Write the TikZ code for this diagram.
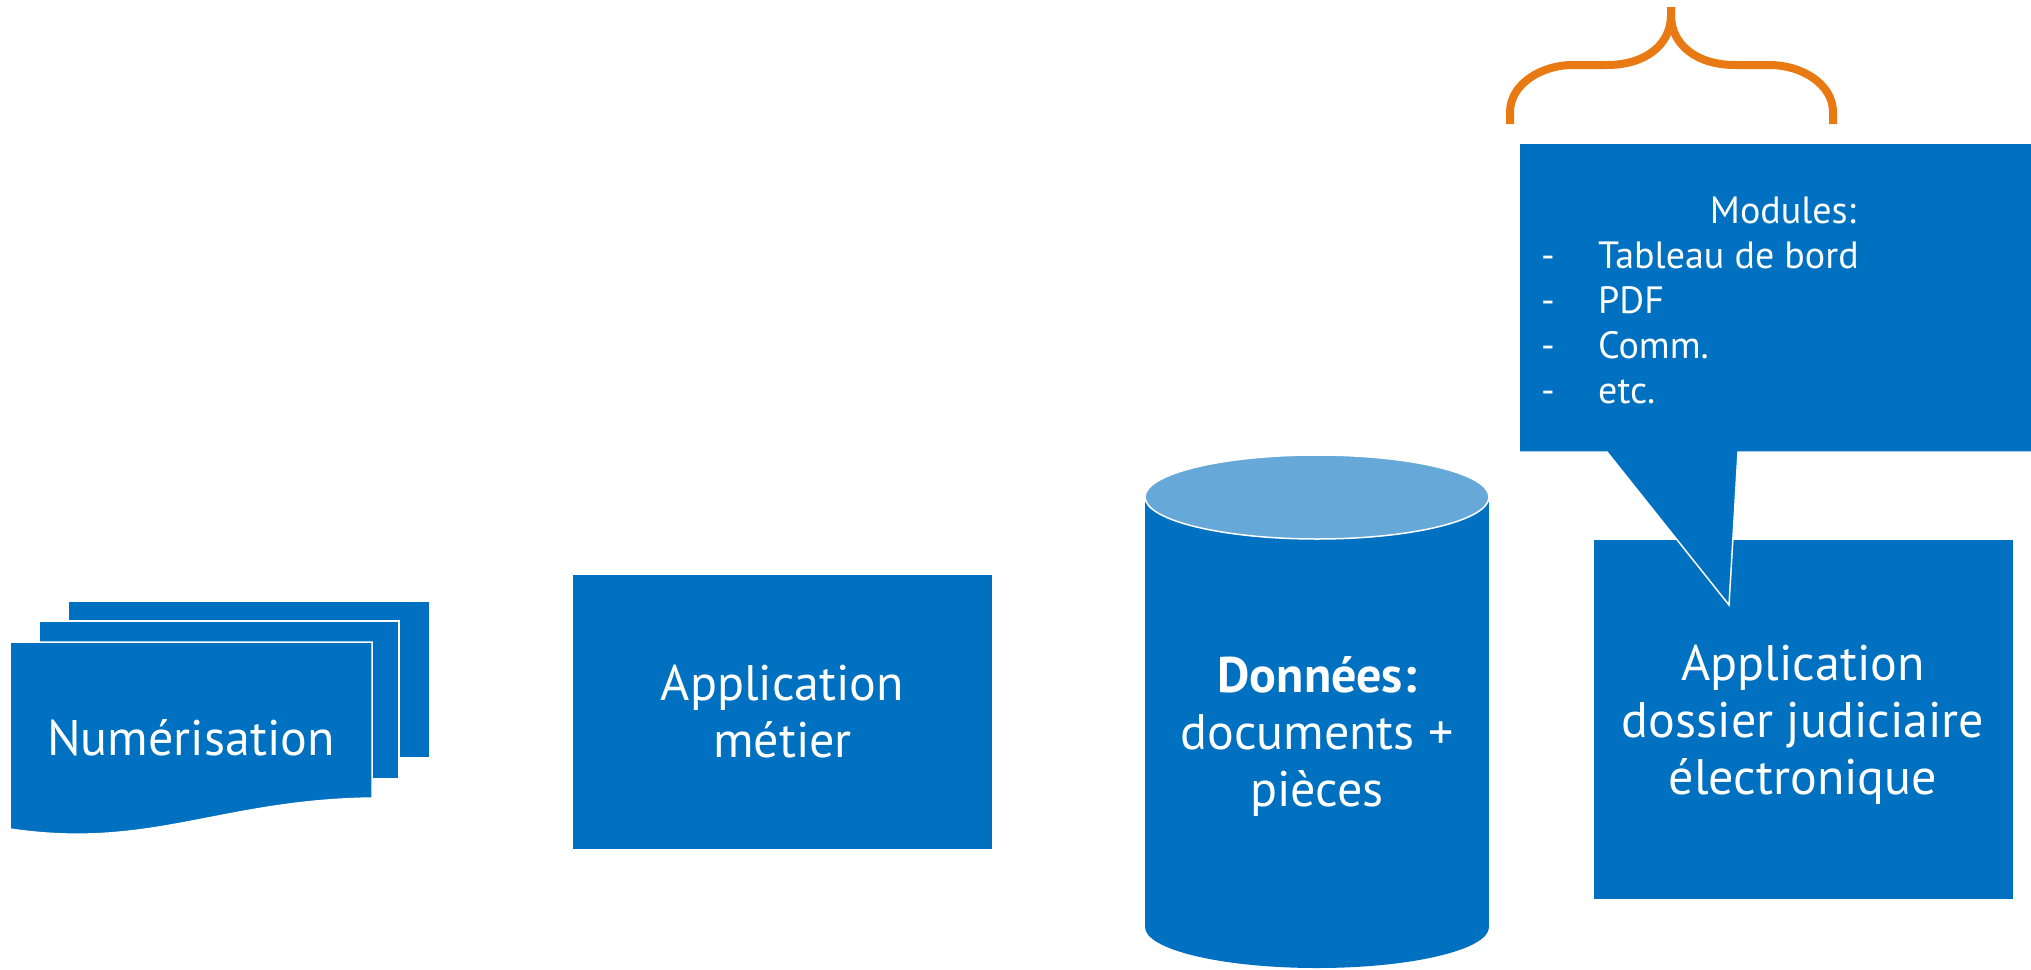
\documentclass[tikz,border=0pt]{standalone}
\usepackage{fontspec}
\setmainfont{PT Sans}
\definecolor{appblue}{HTML}{0070C0}
\definecolor{dbtop}{HTML}{66A8D8}
\definecolor{braceorange}{HTML}{E97A13}
\tikzset{
	box/.style={fill=appblue,draw=white,line width=1.5pt},
	bigtext/.style={text=white,align=center,inner sep=0pt,font=\fontsize{50}{57}\selectfont},
	smalltext/.style={text=white,inner sep=0pt,font=\fontsize{38}{45}\selectfont},
}
\begin{document}
\begin{tikzpicture}[x=1pt,y=-1pt]
		\useasboundingbox (0,0) rectangle (2031,969);
		% Scanned pages
		\filldraw[box] (68,601) rectangle (430,758);
		\filldraw[box] (39,621) rectangle (399,779);
		\filldraw[box] (10,642) -- (372,642) -- (372,798) .. controls (220,800) and (150,850) .. (10,829) -- cycle;
		\node[bigtext,anchor=base] (scan) at (191,755) {Numérisation};
		% Business application
		\node[box,bigtext,minimum width=421pt,minimum height=276pt] (metier) at (782.5,712) {Application\\métier};
		% Database
		\fill[appblue] (1145,497) rectangle (1489,927);
		\fill[appblue] (1317,927) ellipse [x radius=172pt,y radius=41pt];
		\filldraw[fill=dbtop,draw=white,line width=1.5pt] (1317,497) ellipse [x radius=172pt,y radius=42pt];
		\node[bigtext] (data) at (1317,736) {\textbf{Données:}\\documents +\\pièces};
		% Electronic case file
		\node[box,minimum width=421pt,minimum height=361pt] (dossier) at (1803.5,719.5) {};
		\node[bigtext] (dossiertxt) at (1803,725) {Application\\dossier judiciaire\\électronique};
		% Callout with modules
		\filldraw[box] (1519,143) -- (2040,143) -- (2040,452) -- (1738,452) -- (1729,605) -- (1607,452) -- (1519,452) -- cycle;
		\node[smalltext,anchor=base] (modules) at (1783,223) {Modules:};
		\foreach \txt [count=\i] in {Tableau de bord,PDF,Comm.,etc.} {
			\node[smalltext,anchor=base west] (dash\i) at (1541,223+45*\i) {-};
			\node[smalltext,anchor=base west] (module\i) at (1598,223+45*\i) {\txt};
		}
		% Brace
		\draw[braceorange,line width=8pt] (1510,124) -- (1510,112) .. controls (1510,85) and (1540,65) .. (1573,65) -- (1607,65) .. controls (1645,65) and (1671,45) .. (1671,15) -- (1671,7);
		\draw[braceorange,line width=8pt] (1833,124) -- (1833,112) .. controls (1833,85) and (1803,65) .. (1769,65) -- (1735,65) .. controls (1697,65) and (1671,45) .. (1671,15) -- (1671,7);
	\end{tikzpicture}
\end{document}
